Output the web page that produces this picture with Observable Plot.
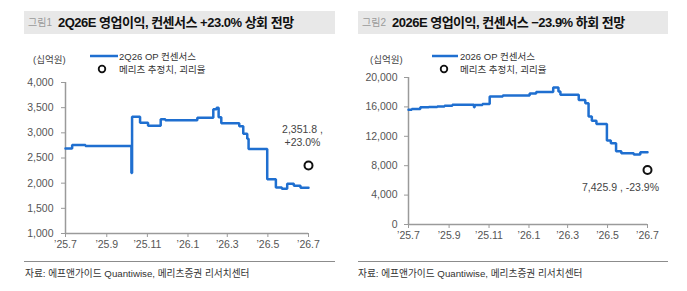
<!DOCTYPE html>
<html>
<head>
<meta charset="utf-8">
<script src="https://cdn.jsdelivr.net/npm/d3@7"></script>
<script src="https://cdn.jsdelivr.net/npm/@observablehq/plot@0.6"></script>
<style>
  body { margin: 0; background: #fff; font-family: "Liberation Sans", "Noto Sans CJK KR", sans-serif; }
  #page { position: relative; width: 687px; height: 291px; overflow: hidden; background: #fff; }
  .abs { position: absolute; white-space: nowrap; }
  .bar { top: 11px; height: 23px; background: #e8e8e8; }
  .fig { font-size: 10px; color: #9a9a9a; line-height: 23px; }
  .ttl { font-size: 13px; letter-spacing: -0.5px; font-weight: bold; color: #111; line-height: 23px; }
  .unit { font-size: 9.5px; color: #444; }
  .leg { font-size: 9.5px; color: #333; line-height: 13px; }
  .rule { height: 1px; background: #8c8c8c; top: 261px; }
  .src { font-size: 9.7px; color: #333; top: 266px; }
  .chart { top: 0; height: 291px; }
  .chart svg { overflow: visible; }
</style>
</head>
<body>
<div id="page">
  <div id="left" class="abs chart" style="left:0;width:345px;"></div>
  <div id="right" class="abs chart" style="left:345px;width:342px;"></div>

  <!-- left panel header -->
  <div class="abs bar" style="left:24px;width:311px;"></div>
  <div class="abs fig" style="left:28px;top:11px;">그림1</div>
  <div class="abs ttl" style="left:58px;top:11px;">2Q26E 영업이익, 컨센서스 +23.0% 상회 전망</div>
  <div class="abs unit" style="left:33px;top:52px;">(십억원)</div>
  <svg class="abs" style="left:88px;top:49px;" width="32" height="28">
    <line x1="2" x2="30" y1="7" y2="7" stroke="#1f6fd0" stroke-width="2.5"/>
    <circle cx="14" cy="20" r="3.3" fill="#fff" stroke="#111" stroke-width="1.8"/>
  </svg>
  <div class="abs leg" style="left:119px;top:50px;">2Q26 OP 컨센서스</div>
  <div class="abs leg" style="left:119px;top:63px;">메리츠 추정치, 괴리율</div>

  <!-- right panel header -->
  <div class="abs bar" style="left:358px;width:310px;"></div>
  <div class="abs fig" style="left:362px;top:11px;">그림2</div>
  <div class="abs ttl" style="left:392px;top:11px;">2026E 영업이익, 컨센서스 −23.9% 하회 전망</div>
  <div class="abs unit" style="left:370px;top:52px;">(십억원)</div>
  <svg class="abs" style="left:430px;top:49px;" width="32" height="28">
    <line x1="2" x2="28" y1="7" y2="7" stroke="#1f6fd0" stroke-width="2.5"/>
    <circle cx="14" cy="20" r="3.3" fill="#fff" stroke="#111" stroke-width="1.8"/>
  </svg>
  <div class="abs leg" style="left:460px;top:50px;">2026 OP 컨센서스</div>
  <div class="abs leg" style="left:460px;top:63px;">메리츠 추정치, 괴리율</div>

  <!-- footers -->
  <div class="abs rule" style="left:24px;width:311px;"></div>
  <div class="abs src" style="left:25px;">자료: 에프앤가이드 Quantiwise, 메리츠증권 리서치센터</div>
  <div class="abs rule" style="left:358px;width:310px;"></div>
  <div class="abs src" style="left:358px;">자료: 에프앤가이드 Quantiwise, 메리츠증권 리서치센터</div>
</div>

<script>
// x-axis ticks shared by both charts
const tickDates = ["2025-07-01", "2025-09-01", "2025-11-01", "2026-01-01", "2026-03-01", "2026-05-01", "2026-07-01"];
const tickLabels = ["’25.7", "’25.9", "’25.11", "’26.1", "’26.3", "’26.5", "’26.7"];

// 2Q26 operating profit consensus (십억원), value from each date onward
const q2Dates = ["2025-07-01", "2025-07-11", "2025-07-31", "2025-10-08", "2025-10-09", "2025-10-21",
  "2025-11-02", "2025-11-21", "2025-11-28", "2026-01-15", "2026-02-08", "2026-02-13", "2026-02-16",
  "2026-02-20", "2026-03-19", "2026-03-25", "2026-03-31", "2026-04-02", "2026-04-30", "2026-05-13",
  "2026-05-22", "2026-05-30", "2026-06-09", "2026-06-19", "2026-07-01"];
const q2Values = [2690, 2760, 2740, 2200, 3320, 3200,
  3140, 3270, 3250, 3300, 3470, 3500, 3310,
  3190, 3130, 2980, 2880, 2680, 2080, 1915,
  1890, 1990, 1950, 1910, 1910];
const q2Estimate = { date: "2026-07-01", value: 2351.8, label: "2,351.8 ,\n+23.0%" };
const q2YTicks = [1000, 1500, 2000, 2500, 3000, 3500, 4000];

// 2026 operating profit consensus (십억원)
const fyDates = ["2025-07-01", "2025-07-06", "2025-07-19", "2025-08-01", "2025-08-14", "2025-08-25",
  "2025-09-06", "2025-10-09", "2025-10-10", "2025-10-22", "2025-11-02", "2025-11-22", "2026-01-02",
  "2026-01-12", "2026-02-07", "2026-02-15", "2026-02-18", "2026-03-18", "2026-03-28", "2026-04-02",
  "2026-04-07", "2026-04-14", "2026-04-30", "2026-05-06", "2026-05-14", "2026-05-22", "2026-06-10",
  "2026-06-20", "2026-07-01"];
const fyValues = [15600, 15700, 15950, 16000, 16070, 16150,
  16280, 15950, 16260, 16400, 17430, 17560, 17830,
  18020, 18650, 18100, 17650, 16940, 16480, 14680,
  14130, 13680, 11420, 11060, 9970, 9700, 9525,
  9840, 9840];
const fyEstimate = { date: "2026-07-01", value: 7425.9, label: "7,425.9 , -23.9%" };
const fyYTicks = [0, 4000, 8000, 12000, 16000, 20000];

const parse = d3.utcParse("%Y-%m-%d");
const xDomain = [parse(tickDates[0]), parse(tickDates[tickDates.length - 1])];
const xTicks = tickDates.map(parse);
const blue = "#1f6fd0";
const axisGray = "#9a9a9a";
const fontStack = "'Liberation Sans', 'Noto Sans CJK KR', sans-serif";

function chart({ dates, values, estimate, yTicks, width, marginLeft, marginRight, marginTop, marginBottom, tickPadY, labelDx, labelDy, labelAnchor }) {
  const rows = dates.map((d, i) => ({ date: parse(d), value: values[i] }));
  const est = [{ date: parse(estimate.date), value: estimate.value, label: estimate.label }];
  const yDomain = [yTicks[0], yTicks[yTicks.length - 1]];
  return Plot.plot({
    width, height: 291,
    marginLeft, marginRight, marginTop, marginBottom,
    style: { fontSize: "10.5px", fontFamily: fontStack, color: "#555", background: "transparent", overflow: "visible" },
    x: { type: "utc", domain: xDomain },
    y: { domain: yDomain },
    marks: [
      Plot.axisY({ ticks: yTicks, tickFormat: d3.format(","), tickSize: 4, tickPadding: tickPadY, stroke: axisGray, label: null, fill: "#555" }),
      Plot.axisX({ ticks: xTicks, tickFormat: (d, i) => tickLabels[i], tickSize: 4, tickPadding: 3, stroke: axisGray, label: null, fill: "#555" }),
      Plot.ruleX([xDomain[0]], { stroke: axisGray, strokeWidth: 1.5 }),
      Plot.ruleY([yDomain[0]], { stroke: axisGray, strokeWidth: 1.5 }),
      Plot.line(rows, { x: "date", y: "value", curve: "step-after", stroke: blue, strokeWidth: 2.5, strokeLinejoin: "miter" }),
      Plot.dot(est, { x: "date", y: "value", r: 4, fill: "#fff", stroke: "#111", strokeWidth: 2 }),
      Plot.text(est, { x: "date", y: "value", text: "label", dx: labelDx, dy: labelDy, lineAnchor: labelAnchor, fill: "#444", fontSize: 10.5, lineHeight: 1.25 })
    ]
  });
}

document.getElementById("left").appendChild(chart({
  dates: q2Dates, values: q2Values, estimate: q2Estimate, yTicks: q2YTicks,
  width: 345, marginLeft: 65, marginRight: 37, marginTop: 82, marginBottom: 58,
  tickPadY: 8, labelDx: -6, labelDy: -19, labelAnchor: "bottom"
}));

document.getElementById("right").appendChild(chart({
  dates: fyDates, values: fyValues, estimate: fyEstimate, yTicks: fyYTicks,
  width: 342, marginLeft: 63, marginRight: 40, marginTop: 77, marginBottom: 67,
  tickPadY: 7, labelDx: -27, labelDy: 12, labelAnchor: "top"
}));
</script>
</body>
</html>
